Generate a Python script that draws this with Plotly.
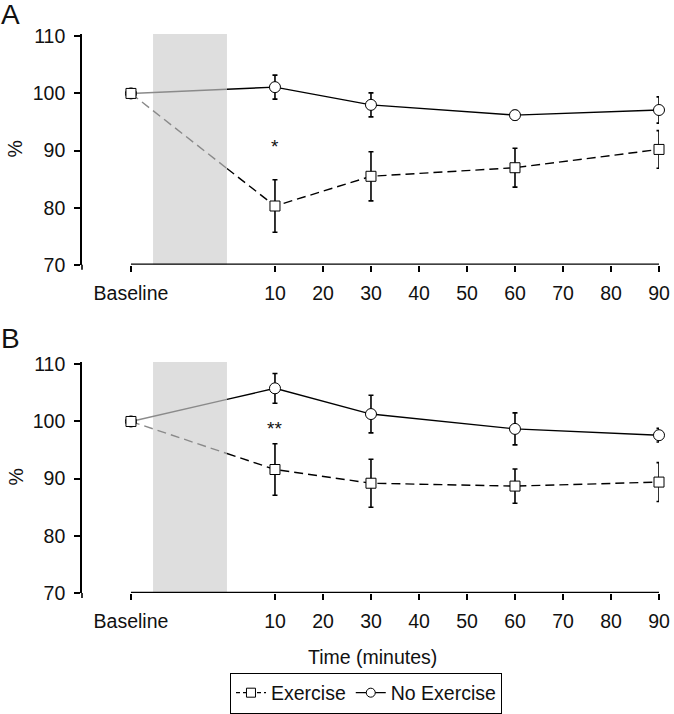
import numpy as np
import plotly.graph_objects as go
from plotly.subplots import make_subplots

# ---- data ----
minutes = [10, 30, 60, 90]
tick_labels = ["Baseline", "10", "20", "30", "40", "50", "60", "70", "80", "90"]
tick_minutes = [10, 20, 30, 40, 50, 60, 70, 80, 90]
y_ticks = [70, 80, 90, 100, 110]

A_exercise = [100, 80.3, 85.5, 87.0, 90.2]
A_exercise_err = [0, 4.6, 4.3, 3.4, 3.3]
A_noex = [100, 101.1, 98.0, 96.2, 97.1]
A_noex_err = [0, 2.1, 2.1, 0.8, 2.3]

B_exercise = [100, 91.6, 89.2, 88.7, 89.4]
B_exercise_err = [0, 4.5, 4.2, 3.0, 3.4]
B_noex = [100, 105.8, 101.3, 98.7, 97.6]
B_noex_err = [0, 2.6, 3.3, 2.8, 1.2]

panel_labels = ["A", "B"]
sig_marks = ["*", "**"]
sig_y = [90.8, 98.8]

# ---- layout constants ----
BASE_POS = -20          # x position used for the Baseline category
SHADE = (-15.4, 0)      # shaded intervention window
XR = [-30.2, 90]
YR = [70, 110.4]
FONT = "Liberation Sans, Arial, sans-serif"
FS = 19.5
TXT = "#111111"
GRAY = "#8a8a8a"
DASH = "9px,5px"
W, H = 674, 714
MARGIN = dict(l=82, r=15, t=34, b=121)
PLOT_H = H - MARGIN["t"] - MARGIN["b"]

xs = [BASE_POS] + minutes
tickvals = [BASE_POS] + tick_minutes

fig = make_subplots(rows=2, cols=1, vertical_spacing=0.0)
domA = [0.587, 1.0]
domB = [0.0, 0.4132]

panels = [
    (A_exercise, A_exercise_err, A_noex, A_noex_err),
    (B_exercise, B_exercise_err, B_noex, B_noex_err),
]

for i, (ex, exe, no, noe) in enumerate(panels):
    r = i + 1
    for vals, dash in [(no, "solid"), (ex, DASH)]:
        y_end = float(np.interp(SHADE[1], xs, vals))
        fig.add_trace(go.Scatter(x=[xs[0], SHADE[1]], y=[vals[0], y_end], mode="lines",
                                 line=dict(color=GRAY, width=1.4, dash=dash),
                                 showlegend=False, hoverinfo="skip", cliponaxis=False), row=r, col=1)
        fig.add_trace(go.Scatter(x=[SHADE[1]] + xs[1:], y=[y_end] + vals[1:], mode="lines",
                                 line=dict(color="black", width=1.4, dash=dash),
                                 showlegend=False, hoverinfo="skip", cliponaxis=False), row=r, col=1)
    for vals, errs, sym, msize in [
        (no, noe, "circle", 11),
        (ex, exe, "square", 10),
    ]:
        fig.add_trace(go.Scatter(x=xs, y=vals, mode="markers",
                                 marker=dict(symbol=sym, size=msize, color="white",
                                             line=dict(color="black", width=1)),
                                 error_y=dict(type="data", array=errs, visible=True,
                                              color="black", thickness=1.6, width=2.5),
                                 showlegend=False, cliponaxis=False), row=r, col=1)

# legend-only entries
fig.add_trace(go.Scatter(x=[None], y=[None], mode="lines+markers", name="Exercise",
                         line=dict(color="black", width=1.3, dash="4px,3px"),
                         marker=dict(symbol="square", size=9, color="white",
                                     line=dict(color="black", width=1))), row=1, col=1)
fig.add_trace(go.Scatter(x=[None], y=[None], mode="lines+markers", name="No Exercise",
                         line=dict(color="black", width=1.3),
                         marker=dict(symbol="circle", size=9, color="white",
                                     line=dict(color="black", width=1))), row=1, col=1)

for i, dom in enumerate([domA, domB]):
    r = i + 1
    xa = "x" if r == 1 else "x2"
    ya = "y" if r == 1 else "y2"
    fig.add_shape(type="rect", xref=xa, yref=ya, x0=SHADE[0], x1=SHADE[1], y0=YR[0], y1=110.6,
                  fillcolor="#dedede", line=dict(width=0), layer="below")
    fig.add_shape(type="line", xref=xa, yref=ya, x0=BASE_POS, x1=90, y0=YR[0], y1=YR[0],
                  line=dict(color="black", width=2.6))
    # small extension of the y axis line below the x axis
    fig.add_shape(type="line", xref="paper", yref="paper", x0=0, x1=0,
                  y0=dom[0] - 5.0 / PLOT_H, y1=dom[0], line=dict(color="black", width=1.6))
    fig.add_annotation(xref=xa, yref=ya, x=10, y=sig_y[i], text=sig_marks[i], showarrow=False,
                       font=dict(family=FONT, size=19, color=TXT))
    fig.update_xaxes(row=r, col=1, range=XR, tickvals=tickvals, ticktext=tick_labels,
                     showline=False, showgrid=False, zeroline=False, ticks="outside",
                     ticklen=6, tickwidth=1.5, tickcolor="black", automargin=False,
                     ticklabelstandoff=5,
                     tickfont=dict(family=FONT, size=FS, color=TXT))
    fig.update_yaxes(row=r, col=1, range=YR, tickvals=y_ticks,
                     showline=True, linecolor="black", linewidth=1.6, showgrid=False,
                     zeroline=False, ticks="outside", ticklen=6, tickwidth=1.5,
                     tickcolor="black", ticklabelstandoff=5, automargin=False,
                     tickfont=dict(family=FONT, size=FS, color=TXT))

fig.update_yaxes(domain=domA, row=1, col=1)
fig.update_yaxes(domain=domB, row=2, col=1)

# axis titles and panel letters as annotations (paper coordinates)
for ycen in [(domA[0] + domA[1]) / 2, (domB[0] + domB[1]) / 2]:
    fig.add_annotation(xref="paper", yref="paper", x=-0.116, y=ycen, text="%", textangle=-90,
                       showarrow=False, xanchor="center", yanchor="middle",
                       font=dict(family=FONT, size=FS, color=TXT))
fig.add_annotation(xref="paper", yref="paper", x=0.503, y=-0.1146, text="Time (minutes)",
                   showarrow=False, xanchor="center", yanchor="middle",
                   font=dict(family=FONT, size=FS, color=TXT))
fig.add_annotation(xref="paper", yref="paper", x=-0.1445, y=1.034, text=panel_labels[0],
                   showarrow=False, xanchor="left", yanchor="middle",
                   font=dict(family=FONT, size=28, color=TXT))
fig.add_annotation(xref="paper", yref="paper", x=-0.1445, y=0.455, text=panel_labels[1],
                   showarrow=False, xanchor="left", yanchor="middle",
                   font=dict(family=FONT, size=28, color=TXT))

fig.update_layout(
    width=W, height=H,
    margin=MARGIN,
    paper_bgcolor="white", plot_bgcolor="white",
    font=dict(family=FONT, size=FS, color=TXT),
    showlegend=True,
    legend=dict(orientation="h", xref="container", yref="container",
                x=0.543, xanchor="center", y=0.0294, yanchor="middle",
                bordercolor="black", borderwidth=1, bgcolor="white",
                font=dict(family=FONT, size=FS, color=TXT),
                itemwidth=30, tracegroupgap=0),
)

fig.write_html("out.html", config={"displayModeBar": False},
               post_script="document.body.style.margin='0px';document.body.style.overflow='hidden';")
